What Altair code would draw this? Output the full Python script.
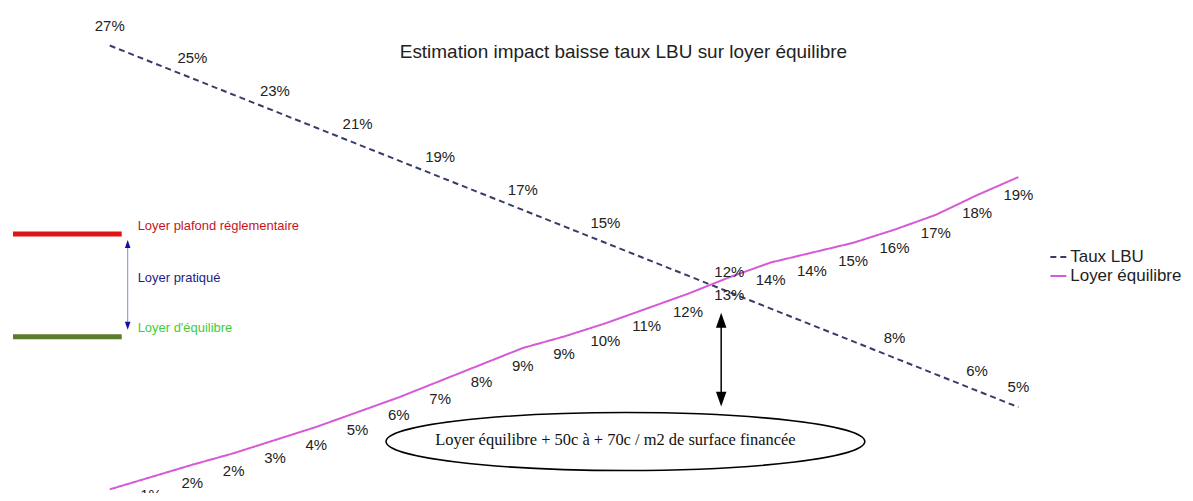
import altair as alt
import pandas as pd

# ---------------- data ----------------
taux = [27, 26, 25, 24, 23, 22, 21, 20, 19, 18, 17, 16, 15, 14, 13, 12, 11, 10, 9, 8, 7, 6, 5]
loyer = [0, 0.75, 1.5, 2.2, 3.0, 3.8, 4.7, 5.6, 6.6, 7.6, 8.6, 9.3, 10.1, 11.0, 11.9,
         12.9, 13.8, 14.4, 15.0, 15.8, 16.7, 17.9, 19.0]
taux_labelled = [27, 25, 23, 21, 19, 17, 15, 12, 8, 6, 5]
series = ["Taux LBU", "Loyer équilibre"]
colors = ["#3b3b6b", "#d65ad6"]
dashes = [[6, 4], [1, 0]]

title_text = "Estimation impact baisse taux LBU sur loyer équilibre"
ellipse_text = "Loyer équilibre + 50c à + 70c / m2 de surface financée"
left_texts = ["Loyer plafond réglementaire", "Loyer pratiqué", "Loyer d'équilibre"]
left_colors = ["#c8141c", "#1c1c86", "#3ccc3c"]

SANS = "Liberation Sans"
SERIF = "Liberation Serif"

# ---------------- tables ----------------
lines_df = pd.DataFrame(
    {"taux": taux * 2,
     "val": taux + loyer,
     "serie": [series[0]] * len(taux) + [series[1]] * len(taux)}
)
lab_lbu = pd.DataFrame({"taux": taux_labelled, "val": taux_labelled,
                        "label": [f"{t}%" for t in taux_labelled]})
lab_loyer = pd.DataFrame({"taux": [t for t, v in zip(taux, loyer) if v > 0.5],
                          "val": [v for v in loyer if v > 0.5],
                          "label": [f"{round(v)}%" for v in loyer if v > 0.5]})

xs = alt.Scale(domain=[27, 5], range=[102, 1013])
ys = alt.Scale(domain=[0, 27], range=[482, 37])
X = alt.X("taux:Q", scale=xs, axis=None)
Y = alt.Y("val:Q", scale=ys, axis=None)

legend = alt.Legend(
    title=None, orient="none", legendX=1044, legendY=240,
    symbolType="stroke", symbolSize=256, symbolStrokeWidth=2,
    labelFont=SANS, labelFontSize=17, labelColor="#222222",
    labelOffset=3, rowPadding=2, padding=0,
)

lines = alt.Chart(lines_df).mark_line(strokeWidth=2).encode(
    x=X, y=Y,
    color=alt.Color("serie:N", scale=alt.Scale(domain=series, range=colors), legend=legend),
    strokeDash=alt.StrokeDash("serie:N", scale=alt.Scale(domain=series, range=dashes), legend=legend),
)

labels_lbu = alt.Chart(lab_lbu).mark_text(font=SANS, fontSize=15, color="#222222", dy=-20).encode(
    x=X, y=Y, text="label:N")
labels_loyer = alt.Chart(lab_loyer).mark_text(font=SANS, fontSize=15, color="#222222", dy=18).encode(
    x=X, y=Y, text="label:N")

one = pd.DataFrame({"a": [0]})

title = alt.Chart(pd.DataFrame({"t": [title_text]})).mark_text(
    font=SANS, fontSize=19, color="#222222").encode(
    text="t:N", x=alt.value(617), y=alt.value(44))

# left explanatory diagram
red_bar = alt.Chart(one).mark_rule(color="#e01414", strokeWidth=5).encode(
    x=alt.value(5), x2=alt.value(114), y=alt.value(226))
green_bar = alt.Chart(one).mark_rule(color="#5a7d2c", strokeWidth=5).encode(
    x=alt.value(5), x2=alt.value(114), y=alt.value(329))
blue_shaft = alt.Chart(one).mark_rule(color="#8c8cc8", strokeWidth=1).encode(
    x=alt.value(120), y=alt.value(234), y2=alt.value(320))
UP = "M -0.7 1 L 0 -1 L 0.7 1 Z"
DOWN = "M -0.7 -1 L 0 1 L 0.7 -1 Z"
blue_up = alt.Chart(one).mark_point(shape=UP, filled=True, size=64, color="#1010b0", opacity=1).encode(
    x=alt.value(120), y=alt.value(236))
blue_down = alt.Chart(one).mark_point(shape=DOWN, filled=True, size=64, color="#1010b0", opacity=1).encode(
    x=alt.value(120), y=alt.value(318))
left_df = pd.DataFrame({"t": left_texts, "c": left_colors})
left_txt = [
    alt.Chart(pd.DataFrame({"t": [t]})).mark_text(font=SANS, fontSize=13, color=c, align="left").encode(
        text="t:N", x=alt.value(130), y=alt.value(yy))
    for t, c, yy in zip(left_texts, left_colors, [218, 270, 320])
]

# black double arrow + ellipse
black_shaft = alt.Chart(one).mark_rule(color="black", strokeWidth=1.5).encode(
    x=alt.value(715), y=alt.value(308), y2=alt.value(396))
black_up = alt.Chart(one).mark_point(shape=UP, filled=True, size=225, color="black", opacity=1).encode(
    x=alt.value(715), y=alt.value(312.5))
black_down = alt.Chart(one).mark_point(shape=DOWN, filled=True, size=225, color="black", opacity=1).encode(
    x=alt.value(715), y=alt.value(391.5))
ELLIPSE = "M -1 0 A 1 0.121 0 1 0 1 0 A 1 0.121 0 1 0 -1 0 Z"
ellipse = alt.Chart(one).mark_point(shape=ELLIPSE, filled=False, size=480 * 480, color="black",
                                    strokeWidth=1.6, opacity=1).encode(
    x=alt.value(619), y=alt.value(434))
ellipse_label = alt.Chart(pd.DataFrame({"t": [ellipse_text]})).mark_text(
    font=SERIF, fontSize=16.5, color="#111111").encode(
    text="t:N", x=alt.value(609), y=alt.value(432))

chart = alt.layer(
    red_bar, green_bar, blue_shaft, blue_up, blue_down, *left_txt,
    black_shaft, black_up, black_down, ellipse, ellipse_label,
    lines, labels_lbu, labels_loyer, title,
).properties(
    width=1180, height=485, padding=0,
    autosize=alt.AutoSizeParams(type="none"),
    background="white",
).configure_view(stroke=None)

chart.save("out.html", embed_options={"renderer": "svg", "actions": False})
